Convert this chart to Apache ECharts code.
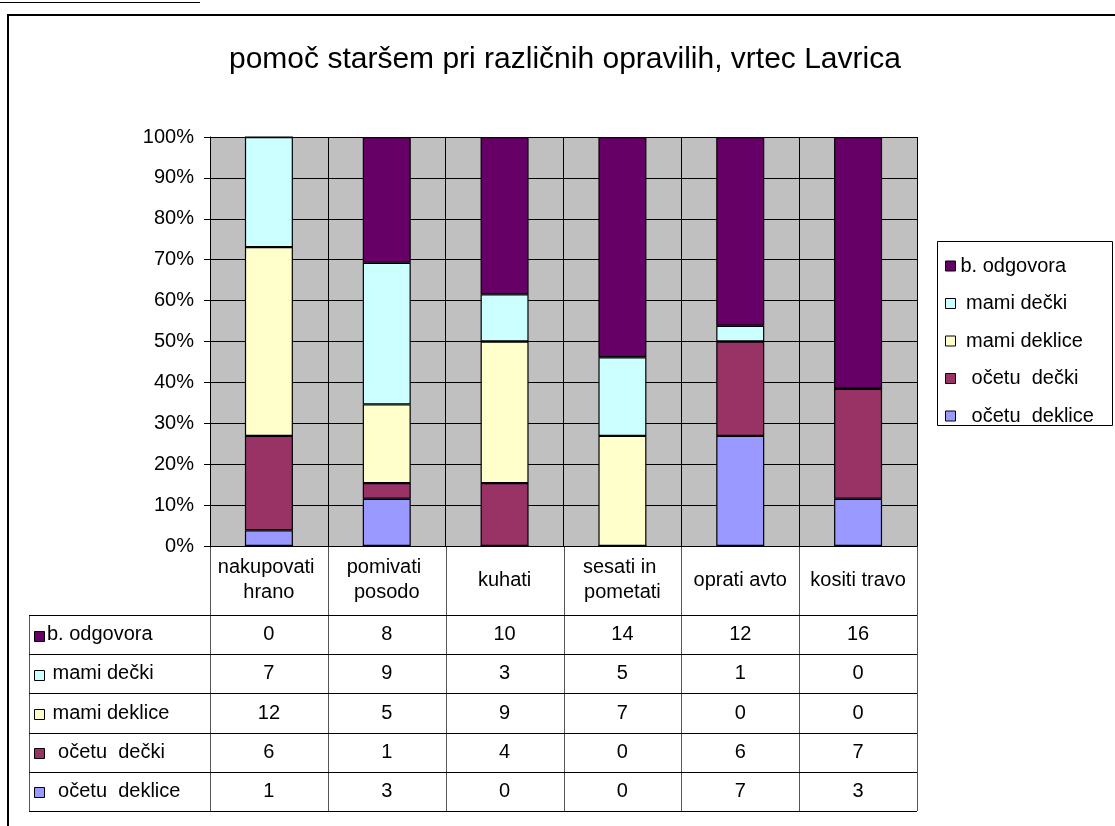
<!DOCTYPE html>
<html>
<head>
<meta charset="utf-8">
<script src="https://cdn.jsdelivr.net/npm/echarts@6/dist/echarts.min.js"></script>
<style>
    html, body { margin: 0; padding: 0; background: #fff; }
    #chart { width: 1115px; height: 826px; }
</style>
</head>
<body>
<div id="chart"></div>
<script>
// 类别与数据（人数）
const categories = ['nakupovati hrano', 'pomivati posodo', 'kuhati', 'sesati in pometati', 'oprati avto', 'kositi travo'];
const bOdgovora = [0, 8, 10, 14, 12, 16];
const mamiDecki = [7, 9, 3, 5, 1, 0];
const mamiDeklice = [12, 5, 9, 7, 0, 0];
const ocetuDecki = [6, 1, 4, 0, 6, 7];
const ocetuDeklice = [1, 3, 0, 0, 7, 3];

// 图例 / 表格顺序（从上到下）
const rowNames = ['b. odgovora', ' mami dečki', ' mami deklice', '  očetu  dečki', '  očetu  deklice'];
const rowValues = [bOdgovora, mamiDecki, mamiDeklice, ocetuDecki, ocetuDeklice];
const rowColors = ['#660066', '#CCFFFF', '#FFFFCC', '#993366', '#9999FF'];

const FONT = '"Liberation Sans", Arial, sans-serif';

// 每列总数，用于 100% 堆积
const totals = categories.map((c, i) => rowValues.reduce((s, arr) => s + arr[i], 0));
const toPct = arr => arr.map((v, i) => totals[i] ? v / totals[i] * 100 : 0);

// 堆积从下往上：očetu deklice 在最下
const series = rowNames.map((name, k) => ({
    name: name,
    type: 'bar',
    stack: 'all',
    barWidth: 48,
    data: toPct(rowValues[k]),
    itemStyle: { color: rowColors[k], borderColor: '#000', borderWidth: 1.2 },
    z: 10 - k
})).reverse();

const chart = echarts.init(document.getElementById('chart'));

chart.setOption({
    animation: false,
    backgroundColor: '#fff',
    textStyle: { fontFamily: FONT },
    title: {
        text: 'pomoč staršem pri različnih opravilih, vrtec Lavrica',
        left: 229,
        top: 45,
        padding: 0,
        textStyle: { fontFamily: FONT, fontSize: 30, fontWeight: 'normal', color: '#000' }
    },
    legend: {
        orient: 'vertical',
        left: 945,
        top: 256,
        padding: 0,
        itemGap: 17.5,
        itemWidth: 10,
        itemHeight: 10,
        icon: 'rect',
        data: rowNames,
        itemStyle: { borderColor: '#000', borderWidth: 1 },
        textStyle: { fontFamily: FONT, fontSize: 20, color: '#000', lineHeight: 20 }
    },
    grid: { left: 210, right: 198, top: 137, bottom: 280, show: true, backgroundColor: '#C0C0C0', borderWidth: 0 },
    xAxis: {
        type: 'category',
        data: categories,
        axisLine: { lineStyle: { color: '#000', width: 1 } },
        axisTick: { show: false },
        splitLine: { show: true, lineStyle: { color: '#000', width: 1 } },
        axisLabel: {
            interval: 0,
            width: 112,
            overflow: 'break',
            lineHeight: 25,
            fontSize: 20,
            fontFamily: FONT,
            color: '#000',
            margin: 34,
            verticalAlign: 'middle'
        }
    },
    yAxis: {
        type: 'value',
        min: 0,
        max: 100,
        interval: 10,
        axisLine: { show: true, lineStyle: { color: '#000', width: 1 } },
        axisTick: { show: true, length: 6, lineStyle: { color: '#000' } },
        splitLine: { show: true, lineStyle: { color: '#000', width: 1 } },
        axisLabel: { formatter: '{value}%', fontSize: 20, fontFamily: FONT, color: '#000', margin: 16 }
    },
    series: series
});

// 数据表 + 边框
function buildGraphics() {
    const els = [];
    const line = (x1, y1, x2, y2, color, w) => els.push({
        type: 'line',
        shape: { x1: x1, y1: y1, x2: x2, y2: y2 },
        style: { stroke: color, lineWidth: w },
        silent: true
    });

    const xCenters = categories.map(c => chart.convertToPixel({ xAxisIndex: 0 }, c));
    const band = xCenters.length > 1 ? xCenters[1] - xCenters[0] : 118;
    const plotLeft = xCenters[0] - band / 2;
    const plotRight = xCenters[xCenters.length - 1] + band / 2;
    const axisY = chart.convertToPixel({ yAxisIndex: 0 }, 0);

    const tableLeft = 29;
    const headTop = axisY;
    const rowTop = 615;
    const rowH = 39.2;
    const tableBottom = rowTop + rowH * rowNames.length;

    // 表格竖线
    for (let i = 0; i <= categories.length; i++) {
        const x = Math.round(plotLeft + i * band) + 0.5;
        line(x, headTop, x, tableBottom, '#555', 1);
    }
    line(tableLeft + 0.5, rowTop, tableLeft + 0.5, tableBottom, '#555', 1);

    // 表格横线
    for (let r = 0; r <= rowNames.length; r++) {
        const y = Math.round(rowTop + r * rowH) + 0.5;
        line(tableLeft, y, plotRight, y, '#000', 1);
    }

    // 行标题与数值
    rowNames.forEach((name, r) => {
        const cy = rowTop + r * rowH + rowH / 2;
        els.push({
            type: 'rect',
            shape: { x: 34.5, y: Math.round(cy - 4) + 0.5, width: 10, height: 10 },
            style: { fill: rowColors[r], stroke: '#000', lineWidth: 1 },
            silent: true
        });
        els.push({
            type: 'text',
            x: 47,
            y: cy,
            style: { text: name, font: '20px ' + FONT, fill: '#000', verticalAlign: 'middle', align: 'left' },
            silent: true
        });
        rowValues[r].forEach((v, i) => {
            els.push({
                type: 'text',
                x: xCenters[i],
                y: cy,
                style: { text: String(v), font: '20px ' + FONT, fill: '#000', verticalAlign: 'middle', align: 'center' },
                silent: true
            });
        });
    });

    // 图例边框
    els.push({
        type: 'rect',
        shape: { x: 937.5, y: 241.5, width: 175, height: 184 },
        style: { fill: null, stroke: '#000', lineWidth: 1 },
        silent: true,
        z: -1
    });

    // 外框
    line(0, 2.5, 200, 2.5, '#000', 1);
    line(7, 15, 1115, 15, '#000', 2);
    line(8, 14, 8, 826, '#000', 2);

    return els;
}

chart.setOption({ graphic: buildGraphics() });
</script>
</body>
</html>
